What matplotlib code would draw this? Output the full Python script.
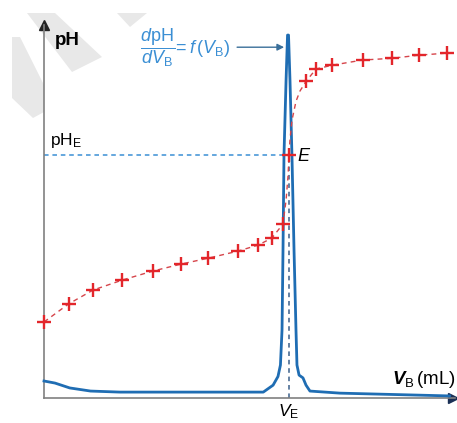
import matplotlib
matplotlib.use("Agg")
import matplotlib.pyplot as plt
import matplotlib.transforms as mtransforms
from matplotlib.patches import Polygon

plt.rcParams['font.family'] = ['Liberation Sans', 'DejaVu Sans']
plt.rcParams['mathtext.fontset'] = 'custom'
plt.rcParams['mathtext.rm'] = 'Liberation Sans'
plt.rcParams['mathtext.it'] = 'Liberation Sans:italic'
plt.rcParams['mathtext.bf'] = 'Liberation Sans:bold:italic'

# titration curve pH = f(V_B), crosses are the measured points
meas_v = [0, 2.0, 4.0, 6.4, 8.9, 11.2, 13.4, 15.8, 17.5, 18.6, 19.5, 20.0,
          21.4, 22.2, 23.5, 26.0, 28.4, 30.6, 32.9]
meas_ph = [2.19, 2.71, 3.11, 3.40, 3.66, 3.86, 4.03, 4.23, 4.41, 4.61, 5.01, 7.0,
           9.13, 9.48, 9.59, 9.74, 9.79, 9.88, 9.94]

# smooth dashed curve through the points
curve_v = [0, 2.0, 4.0, 6.4, 8.9, 11.2, 13.4, 15.8, 17.5, 18.6, 19.5, 19.76, 19.92,
           20.0, 20.08, 20.24, 20.57, 20.9, 21.4, 22.2, 23.5, 26.0, 28.4, 30.6, 32.9]
curve_ph = [2.19, 2.71, 3.11, 3.40, 3.66, 3.86, 4.03, 4.23, 4.41, 4.61, 5.01, 5.7, 6.4,
            7.0, 7.45, 8.0, 8.55, 8.85, 9.13, 9.48, 9.59, 9.74, 9.79, 9.88, 9.94]

# derivative dpH/dV_B (scaled)
deriv_v = [0, 0.9, 2.1, 3.8, 6.2, 12.0, 17.9, 18.7, 19.1, 19.3, 19.43, 19.51, 19.59,
           19.76, 19.88, 19.96, 20.08, 20.24, 20.41, 20.57, 20.65, 20.82, 21.14, 21.39,
           21.71, 24.16, 33.1]
deriv_y = [0.49, 0.43, 0.29, 0.20, 0.17, 0.17, 0.17, 0.37, 0.62, 0.95, 1.96, 4.26, 7.0,
           9.16, 10.46, 10.46, 9.16, 7.0, 4.26, 1.96, 0.95, 0.66, 0.58, 0.37,
           0.20, 0.14, 0.06]

v_e = 20.0
ph_e = 7.0

red = '#e3262b'
blue = '#1f6db3'
light_blue = '#3b8fd4'

fig = plt.figure(figsize=(4.57, 4.23), dpi=100)

# grey watermark bands (in pixel coords of the picture)
px = mtransforms.Affine2D().scale(1 / 457, -1 / 423).translate(0, 1) + fig.transFigure
bands = [
    [(27, 13), (55, 13), (102, 57), (72, 72)],
    [(117, 13), (147, 13), (130, 27)],
    [(12, 37), (20, 37), (44, 85), (44, 112), (33, 118), (12, 98)],
]
for b in bands:
    fig.add_artist(Polygon(b, closed=True, facecolor='#e8e8e8', edgecolor='none',
                           transform=px, zorder=0))

ax = fig.add_axes([44 / 457, 25 / 423, 411 / 457, 373 / 423])
ax.set_xlim(0, 33.55)
ax.set_ylim(0, 10.75)
ax.patch.set_alpha(0)
for s in ['top', 'right']:
    ax.spines[s].set_visible(False)
for s in ['left', 'bottom']:
    ax.spines[s].set_color('#808080')
    ax.spines[s].set_linewidth(1.2)
ax.set_xticks([])
ax.set_yticks([])

# axis arrow heads
ax.plot([0], [10.75], marker='^', color='#222222', markersize=7, clip_on=False)
ax.plot([33.4], [0], marker='>', color='#1a2f55', markersize=7, clip_on=False)

# reference lines at the equivalence point
ax.plot([0, v_e], [ph_e, ph_e], color=light_blue, lw=1.1, ls=(0, (3, 2.5)))
ax.plot([v_e, v_e], [0, ph_e], color='#3a5f8a', lw=1.1, ls=(0, (3, 2.5)))

ax.plot(deriv_v, deriv_y, color=blue, lw=2.0, clip_on=False, zorder=3)
ax.plot(curve_v, curve_ph, color='#d6454b', lw=1.0, ls=(0, (3.5, 3)), zorder=4)
ax.plot(meas_v, meas_ph, ls='none', marker='+', color=red, markersize=9.5,
        markeredgewidth=1.7, clip_on=False, zorder=5)

ax.text(0.9, 10.31, 'pH', fontsize=13.5, fontweight='bold', va='center', ha='left')
ax.text(0.5, 7.42, r'pH$_{\mathrm{E}}$', fontsize=12.5, va='center', ha='left')
ax.text(20.7, 6.97, 'E', fontsize=13, style='italic', va='center', ha='left')
ax.text(v_e, -0.13, r'$V_{\mathrm{E}}$', fontsize=12.5, va='top', ha='center')
ax.text(33.6, 0.52, r'$\mathbf{V}_{\mathrm{B}}\,$(mL)', fontsize=13.5, va='center',
        ha='right')

ax.annotate(r'$\dfrac{d\mathrm{pH}}{dV_{\mathrm{B}}}\!=f\,(V_{\mathrm{B}})$',
            xy=(19.6, 10.11), xytext=(7.8, 10.11), fontsize=13, color=light_blue,
            va='center', ha='left',
            arrowprops=dict(arrowstyle='-|>', color='#3a6f9a', lw=1.0,
                            shrinkA=3, shrinkB=0, mutation_scale=10))

fig.savefig('out.png', dpi=100)
